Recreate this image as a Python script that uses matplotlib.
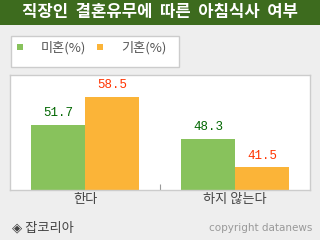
import matplotlib.pyplot as plt
from matplotlib.patches import Rectangle

# data
categories = ["한다", "하지 않는다"]
series_names = ["미혼(%)", "기혼(%)"]
single = [51.7, 48.3]
married = [58.5, 41.5]

title = "직장인  결혼유무에  따른  아침식사  여부"
source = "◈ 잡코리아"
credit = "copyright datanews"

green = "#88c25c"
orange = "#fbb438"
kfont = ["Noto Sans CJK KR", "DejaVu Sans"]

W, H = 320, 240
fig = plt.figure(figsize=(3.2, 2.4), dpi=100, facecolor="#eeeeee")

def fx(px):
    return px / W

def fy(py):
    return 1 - py / H

# title bar
fig.patches.append(Rectangle((0, fy(25)), 1, 25 / H, transform=fig.transFigure,
                             facecolor="#3d6b1e", edgecolor="none", zorder=0))
fig.text(0.5, fy(12.5), title, color="white", fontsize=12, fontweight="bold",
         family=kfont, ha="center", va="center")

# legend box
fig.patches.append(Rectangle((fx(10.5), fy(66.5)), 168 / W, 31 / H, transform=fig.transFigure,
                             facecolor="white", edgecolor="#cccccc", linewidth=1, zorder=0))
legend_x = [17, 97]
for name, col, lx in zip(series_names, [green, orange], legend_x):
    fig.patches.append(Rectangle((fx(lx), fy(50)), 6 / W, 6 / H, transform=fig.transFigure,
                                 facecolor=col, edgecolor="none"))
    fig.text(fx(lx + 24), fy(47.5), name, color="#555555", fontsize=9.5,
             family=kfont, ha="left", va="center")

# plot area
ax = fig.add_axes([fx(10), fy(190), 300 / W, 115 / H])
ax.set_facecolor("white")
x = range(len(categories))
w = 0.36
b1 = ax.bar([i - w / 2 for i in x], single, width=w, color=green)
b2 = ax.bar([i + w / 2 for i in x], married, width=w, color=orange)
ax.set_xlim(-0.5, 1.5)
ax.set_ylim(36, 63.7)
ax.set_yticks([])
ax.set_xticks([0.5])
ax.set_xticklabels([""])
ax.tick_params(axis="x", direction="in", length=4, width=0.8, color="#999999")
for s in ax.spines.values():
    s.set_color("#cccccc")
    s.set_linewidth(1)

for bars, vals, col in [(b1, single, "#006600"), (b2, married, "#ff3300")]:
    for r, v in zip(bars, vals):
        ax.annotate(f"{v}", (r.get_x() + r.get_width() / 2, v), xytext=(0, 4),
                    textcoords="offset points", ha="center", va="bottom",
                    color=col, fontsize=9, family="Liberation Mono")

for i, c in zip(x, categories):
    ax.text(i, -0.08, c, transform=ax.get_xaxis_transform(), ha="center", va="center",
            fontsize=9.5, color="#444444", family=kfont)

# footer
fig.text(fx(12), fy(228), source, fontsize=9.5, color="#444444", family=kfont,
         ha="left", va="center")
fig.text(fx(312), fy(228), credit, fontsize=7.5, color="#999999", ha="right", va="center")

fig.savefig("out.png", dpi=100, facecolor=fig.get_facecolor())
